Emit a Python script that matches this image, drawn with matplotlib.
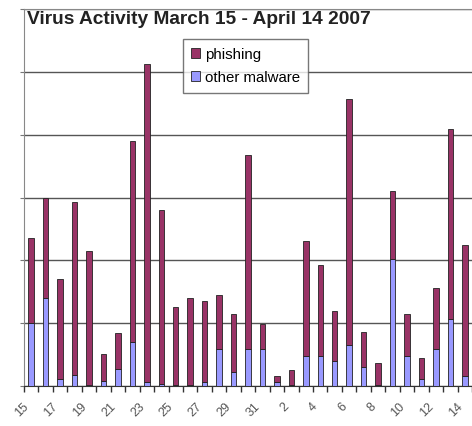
import matplotlib
matplotlib.use('Agg')
import matplotlib.pyplot as plt
import numpy as np

days = ['15', '16', '17', '18', '19', '20', '21', '22', '23', '24', '25', '26', '27', '28',
        '29', '30', '31', '1', '2', '3', '4', '5', '6', '7', '8', '9', '10', '11', '12', '13', '14']
total = [235, 299, 171, 293, 215, 51, 85, 390, 512, 280, 125, 140, 136, 145, 115,
         367, 99, 16, 26, 230, 192, 119, 456, 86, 36, 310, 115, 45, 156, 409, 225]
other = [100, 140, 11, 18, 2, 8, 27, 70, 7, 3, 1, 1, 7, 59, 22,
         59, 59, 7, 1, 47, 47, 40, 66, 31, 2, 202, 47, 11, 59, 107, 16]
phishing = [t - o for t, o in zip(total, other)]

plt.rcParams['font.family'] = ['Liberation Sans', 'DejaVu Sans']

fig = plt.figure(figsize=(4.72, 4.27), dpi=100)
ax = fig.add_axes([24/472, 1 - 387/427, 1 - 24/472, 377/427])

x = np.arange(len(days))
w = 0.38
ax.bar(x, other, w, color='#9999ff', edgecolor='#222222', linewidth=0.6, label='other malware', zorder=3)
ax.bar(x, phishing, w, bottom=other, color='#993366', edgecolor='#222222', linewidth=0.6, label='phishing', zorder=3)

ax.set_xlim(-0.5, len(days) - 0.5)
ax.set_ylim(0, 600)
ax.set_yticks(np.arange(0, 601, 100))
ax.set_yticklabels([])
ax.tick_params(axis='y', length=3, color='#777777')
ax.grid(axis='y', color='#555555', linewidth=1.0, zorder=0)

ax.set_xticks(x[::2])
ax.set_xticklabels(days[::2], rotation=45, ha='right', fontsize=9, color='#555555')
ax.tick_params(axis='x', which='major', length=0, pad=10)
ax.set_xticks(np.arange(-0.5, len(days), 1), minor=True)
ax.tick_params(axis='x', which='minor', length=4, color='#333333', width=1)

for s in ['top', 'left']:
    ax.spines[s].set_color('#888888')
ax.spines['right'].set_visible(False)
ax.spines['bottom'].set_color('#333333')

ax.text(0.006, 0.997, 'Virus Activity March 15 - April 14 2007', transform=ax.transAxes,
        fontsize=13.8, fontweight='bold', color='#222222', va='top', ha='left')

h, l = ax.get_legend_handles_labels()
leg = ax.legend(h[::-1], l[::-1], loc='upper left', bbox_to_anchor=(0.355, 0.92),
                fontsize=10.8, frameon=True, fancybox=False, edgecolor='#555555',
                handlelength=0.6, handleheight=0.6, handletextpad=0.3,
                borderpad=0.55, labelspacing=0.6, borderaxespad=0)
leg.get_frame().set_linewidth(1.0)

plt.savefig('out.png', dpi=100)
